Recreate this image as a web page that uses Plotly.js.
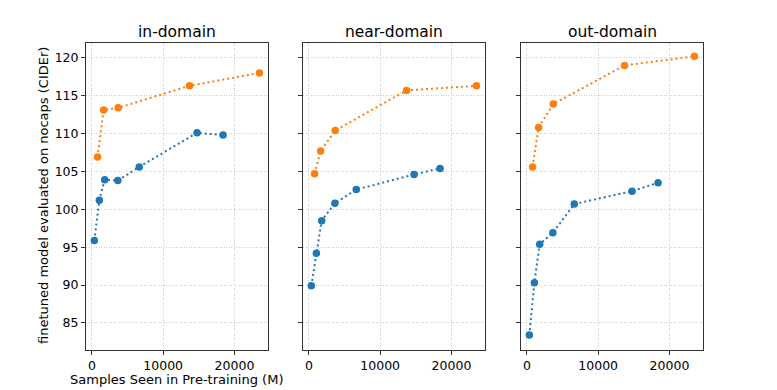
<!DOCTYPE html>
<html>
<head>
<meta charset="utf-8">
<script src="https://cdn.plot.ly/plotly-3.0.1.min.js"></script>
<style>
  html, body { margin: 0; padding: 0; background: #fff; }
  #chart { width: 777px; height: 390px; }
</style>
</head>
<body>
<div id="chart"></div>
<script>
// values
const panelTitles = ['in-domain', 'near-domain', 'out-domain'];
const blueSamples = [350, 1050, 1800, 3650, 6650, 14750, 18400];
const orangeSamples = [800, 1650, 3700, 13700, 23500];
const blueCider = [
  [95.9, 101.2, 103.9, 103.8, 105.6, 110.1, 109.8],
  [89.9, 94.2, 98.5, 100.8, 102.6, 104.6, 105.4],
  [83.4, 90.3, 95.4, 96.9, 100.7, 102.4, 103.5],
];
const orangeCider = [
  [106.9, 113.1, 113.4, 116.3, 118.0],
  [104.7, 107.7, 110.4, 115.7, 116.3],
  [105.6, 110.8, 113.9, 119.0, 120.2],
];
const yTicks = [85, 90, 95, 100, 105, 110, 115, 120];
const xTicks = [0, 10000, 20000];

const W = 777, H = 390;
// axes boxes in pixels [left, right]
const boxes = [[86, 268], [303, 485], [521, 703]];
const boxTop = 42.5, boxBottom = 350;

const traces = [];
const layout = {
  width: W, height: H,
  margin: {l: 0, r: 0, t: 0, b: 0},
  paper_bgcolor: '#fff', plot_bgcolor: '#fff',
  showlegend: false,
  font: {family: 'DejaVu Sans, sans-serif', size: 12, color: '#000'},
  annotations: [],
};

const baseAxis = {
  showline: true, mirror: true, linecolor: '#333', linewidth: 1,
  ticks: 'outside', ticklen: 4, tickcolor: '#333', tickwidth: 1,
  showgrid: true, gridcolor: '#cfcfcf', griddash: '1px,1.5px', gridwidth: 1,
  zeroline: false, tickfont: {size: 12.5},
};

panelTitles.forEach((t, i) => {
  const n = i === 0 ? '' : String(i + 1);
  const xa = 'x' + n, ya = 'y' + n;
  traces.push({
    x: blueSamples, y: blueCider[i], xaxis: xa, yaxis: ya,
    mode: 'lines+markers', type: 'scatter',
    line: {color: '#1f77b4', dash: '2px,3px', width: 2},
    marker: {color: '#1f77b4', size: 7.5},
  });
  traces.push({
    x: orangeSamples, y: orangeCider[i], xaxis: xa, yaxis: ya,
    mode: 'lines+markers', type: 'scatter',
    line: {color: '#ff7f0e', dash: '2px,3px', width: 2},
    marker: {color: '#ff7f0e', size: 7.5},
  });
  layout['xaxis' + n] = Object.assign({}, baseAxis, {
    domain: [boxes[i][0] / W, boxes[i][1] / W],
    range: [-820, 24700], tickvals: xTicks, ticktext: xTicks.map(String),
    anchor: ya,
  });
  layout['yaxis' + n] = Object.assign({}, baseAxis, {
    domain: [1 - boxBottom / H, 1 - boxTop / H],
    range: [81.43, 122.02], tickvals: yTicks,
    showticklabels: i === 0,
    anchor: xa,
  });
  layout.annotations.push({
    text: t, xref: 'paper', yref: 'paper',
    x: (boxes[i][0] + boxes[i][1]) / 2 / W, y: 1 - 32 / H,
    xanchor: 'center', yanchor: 'middle', showarrow: false,
    font: {size: 15.5},
  });
});

layout.annotations.push({
  text: 'Samples Seen in Pre-training (M)', xref: 'paper', yref: 'paper',
  x: 176 / W, y: 1 - 379.5 / H, xanchor: 'center', yanchor: 'middle',
  showarrow: false, font: {size: 13},
});
layout.annotations.push({
  text: 'finetuned model evaluated on nocaps (CIDEr)', xref: 'paper', yref: 'paper',
  x: 43 / W, y: 1 - 196 / H, xanchor: 'center', yanchor: 'middle',
  textangle: -90, showarrow: false, font: {size: 13},
});

Plotly.newPlot('chart', traces, layout, {displayModeBar: false, staticPlot: true});
</script>
</body>
</html>
